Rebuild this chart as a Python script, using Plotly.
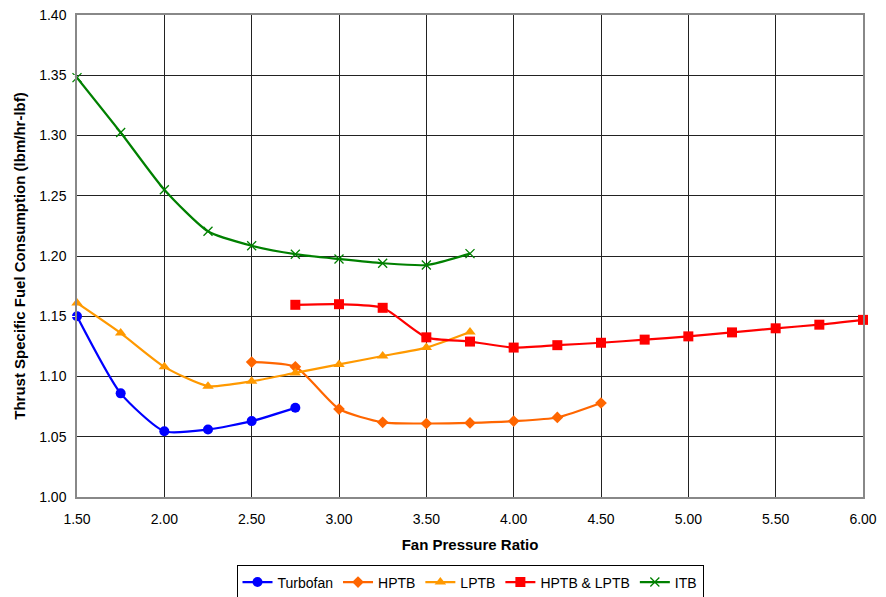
import plotly.graph_objects as go

x_turbofan = [1.50, 1.75, 2.00, 2.25, 2.50, 2.75]
y_turbofan = [1.150, 1.086, 1.0545, 1.056, 1.063, 1.074]

x_hptb = [2.50, 2.75, 3.00, 3.25, 3.50, 3.75, 4.00, 4.25, 4.50]
y_hptb = [1.112, 1.108, 1.073, 1.062, 1.061, 1.0615, 1.063, 1.066, 1.078]

x_lptb = [1.50, 1.75, 2.00, 2.25, 2.50, 2.75, 3.00, 3.25, 3.50, 3.75]
y_lptb = [1.161, 1.136, 1.108, 1.092, 1.096, 1.103, 1.110, 1.117, 1.124, 1.137]

x_both = [2.75, 3.00, 3.25, 3.50, 3.75, 4.00, 4.25, 4.50, 4.75, 5.00, 5.25, 5.50, 5.75, 6.00]
y_both = [1.1595, 1.160, 1.157, 1.1325, 1.129, 1.124, 1.126, 1.128, 1.1306, 1.1333, 1.1366, 1.140, 1.143, 1.147]

x_itb = [1.50, 1.75, 2.00, 2.25, 2.50, 2.75, 3.00, 3.25, 3.50, 3.75]
y_itb = [1.348, 1.3025, 1.255, 1.2205, 1.2085, 1.2015, 1.1975, 1.194, 1.1925, 1.202]

x_ticks = [1.5, 2.0, 2.5, 3.0, 3.5, 4.0, 4.5, 5.0, 5.5, 6.0]
y_ticks = [1.00, 1.05, 1.10, 1.15, 1.20, 1.25, 1.30, 1.35, 1.40]

series = [
    ("Turbofan", x_turbofan, y_turbofan, "#0000FF", "circle", 10),
    ("HPTB", x_hptb, y_hptb, "#FF6600", "diamond", 9),
    ("LPTB", x_lptb, y_lptb, "#FF9900", "triangle-up", 10),
    ("HPTB & LPTB", x_both, y_both, "#FF0000", "square", 10),
    ("ITB", x_itb, y_itb, "#008000", "x-thin", 9),
]

fig = go.Figure()
for name, xs, ys, color, sym, size in series:
    marker = dict(symbol=sym, size=size, color=color)
    if sym == "x-thin":
        marker["line"] = dict(color=color, width=1.3)
    fig.add_trace(go.Scatter(
        x=xs, y=ys, name=name, mode="lines+markers",
        line=dict(color=color, width=2.2, shape="spline", smoothing=0.6),
        marker=marker,
        cliponaxis=False,
    ))

font_family = "Liberation Sans, Arial, sans-serif"
fig.update_layout(
    width=878, height=589,
    margin=dict(l=69, r=23, t=7, b=100, autoexpand=False),
    paper_bgcolor="white", plot_bgcolor="white",
    font=dict(family=font_family, size=14, color="black"),
    showlegend=True,
    legend=dict(
        orientation="h", x=0.5, xanchor="center", y=-0.142, yanchor="top",
        bordercolor="black", borderwidth=1, font=dict(size=14),
        itemwidth=30, tracegroupgap=0,
    ),
    xaxis=dict(
        range=[1.5, 6.0], tickvals=x_ticks, ticktext=[f"{v:.2f}" for v in x_ticks],
        showgrid=True, gridcolor="#222222", gridwidth=1,
        showline=True, linecolor="#888888", linewidth=1.5, mirror=True,
        zeroline=False, ticks="outside", ticklen=8, tickcolor="white", tickfont=dict(size=14),
        automargin=False, ticklabeloverflow="allow",
        title=dict(text="<b>Fan Pressure Ratio</b>", font=dict(size=15), standoff=14),
    ),
    yaxis=dict(
        range=[1.0, 1.4], tickvals=y_ticks, ticktext=[f"{v:.2f}" for v in y_ticks],
        showgrid=True, gridcolor="#222222", gridwidth=1,
        showline=True, linecolor="#888888", linewidth=1.5, mirror=True,
        zeroline=False, ticks="outside", ticklen=6, tickcolor="white", tickfont=dict(size=14),
        automargin=False, ticklabeloverflow="allow",
        title=dict(text="<b>Thrust Specific Fuel Consumption (lbm/hr-lbf)</b>", font=dict(size=15), standoff=10),
    ),
)

fig.write_html("out.html")
